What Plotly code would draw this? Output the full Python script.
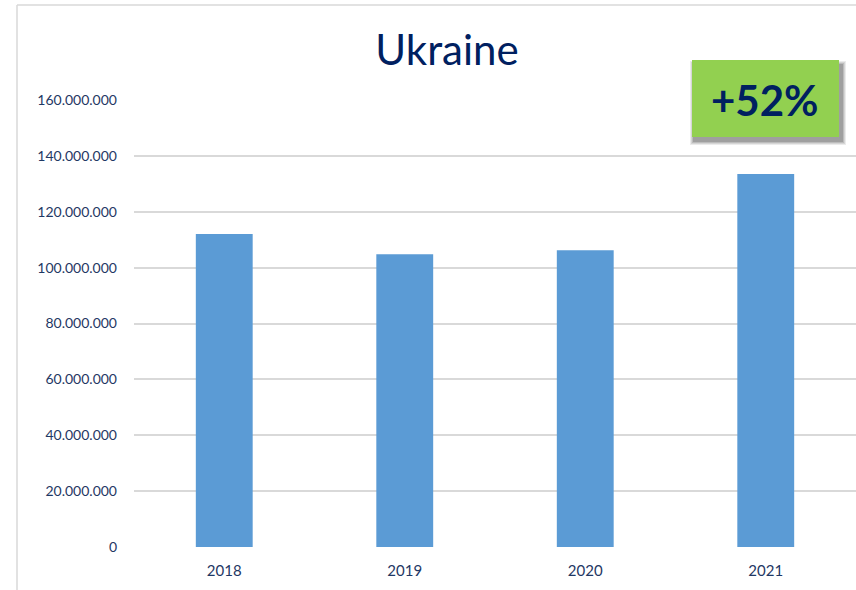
import plotly.graph_objects as go

years = ["2018", "2019", "2020", "2021"]
values = [112_000_000, 104_800_000, 106_200_000, 133_500_000]
ytick_vals = [0, 20_000_000, 40_000_000, 60_000_000, 80_000_000, 100_000_000, 120_000_000, 140_000_000, 160_000_000]
ytick_text = ["0", "20.000.000", "40.000.000", "60.000.000", "80.000.000", "100.000.000", "120.000.000", "140.000.000", "160.000.000"]
title_text = "Ukraine"
badge_text = "+52%"

W, H = 856, 590
L, R, T, B = 134, 0, 100, 43
pw, ph = W - L - R, H - T - B

def px(x):
    return (x - L) / pw

def py(y):
    return (H - B - y) / ph

NAVY = "#1F3864"
FONT = "Lato"

fig = go.Figure(go.Bar(x=years, y=values, marker=dict(color="#5B9BD5", line=dict(width=0)), width=0.315))

shapes = []
# chart border
shapes.append(dict(type="line", xref="paper", yref="paper", x0=px(17), x1=px(17), y0=py(5), y1=py(600),
                   line=dict(color="#D9D9D9", width=1.5)))
shapes.append(dict(type="line", xref="paper", yref="paper", x0=px(17), x1=px(870), y0=py(5), y1=py(5),
                   line=dict(color="#D9D9D9", width=1.5)))
# badge shadow
for i, op in enumerate([0.10, 0.12, 0.16, 0.22]):
    d = 4 - i
    shapes.append(dict(type="rect", xref="paper", yref="paper",
                       x0=px(692 + 2 - d), x1=px(839 + 3 + d), y0=py(60 + 5 - d), y1=py(137 + 4 + d),
                       fillcolor=f"rgba(60,60,60,{op})", line=dict(width=0), layer="above"))
shapes.append(dict(type="rect", xref="paper", yref="paper", x0=px(692), x1=px(839), y0=py(60), y1=py(137),
                   fillcolor="#92D050", line=dict(width=0), layer="above"))

fig.update_layout(
    width=W, height=H,
    margin=dict(l=L, r=R, t=T, b=B),
    paper_bgcolor="white", plot_bgcolor="white",
    showlegend=False,
    font=dict(family=FONT, color=NAVY),
    title=dict(text=title_text, x=447 / W, xanchor="center", y=1 - 50 / H, yanchor="middle",
               font=dict(family=FONT, size=42, color="#002060")),
    shapes=shapes,
    annotations=[dict(text=badge_text, xref="paper", yref="paper", x=px(765), y=py(100),
                      xanchor="center", yanchor="middle", showarrow=False,
                      font=dict(family=FONT, size=42, color="#002060", weight="bold"))],
    bargap=0.684,
)
fig.update_xaxes(range=[-0.5, 3.5], showgrid=False, zeroline=False, showline=False, ticks="",
                 tickfont=dict(size=15, color=NAVY), ticklabelstandoff=13)
fig.update_yaxes(range=[0, 160_000_000], tickvals=ytick_vals, ticktext=ytick_text, showgrid=True,
                 gridcolor="#D9D9D9", gridwidth=1.5, zeroline=False, showline=False, ticks="",
                 tickfont=dict(size=14, color=NAVY), ticklabelstandoff=16)

fig.write_html("out.html", config={"displayModeBar": False},
               post_script="document.body.style.margin='0';")
